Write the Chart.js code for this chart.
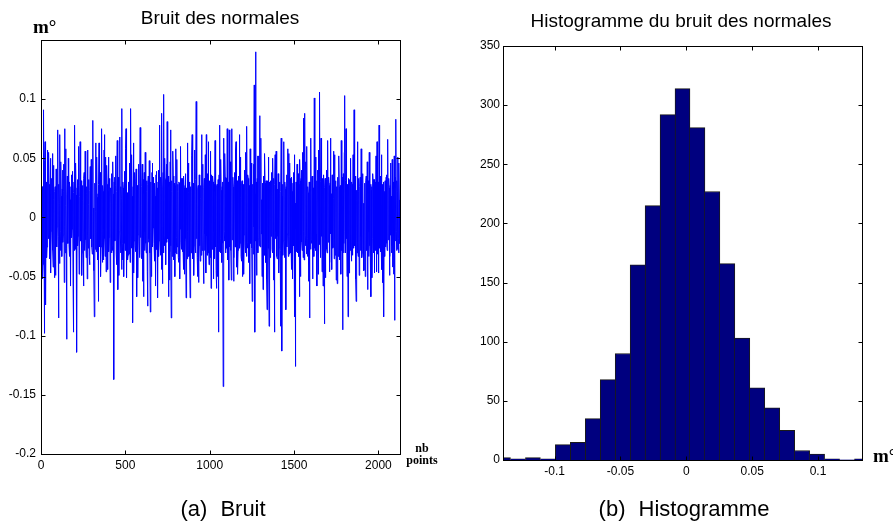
<!DOCTYPE html>
<html>
<head>
<meta charset="utf-8">
<script src="https://cdn.jsdelivr.net/npm/chart.js@4.4.1/dist/chart.umd.min.js"></script>
<style>
  body { margin: 0; background: #fff; }
  #page { position: relative; width: 893px; height: 523px; overflow: hidden; font-family: "Liberation Sans", Arial, sans-serif; color: #000; }
  canvas { position: absolute; top: 0; }
  .title { position: absolute; font-size: 19px; line-height: 19px; white-space: nowrap; transform: translateX(-50%); }
  .caption { position: absolute; font-size: 22px; line-height: 22px; word-spacing: 7px; white-space: nowrap; transform: translateX(-50%); }
  .unit { position: absolute; font-family: "Liberation Serif", "Times New Roman", serif; font-weight: bold; font-size: 19px; line-height: 19px; white-space: nowrap; }
  .nb { position: absolute; font-family: "Liberation Serif", "Times New Roman", serif; font-weight: bold; font-size: 12px; line-height: 12px; text-align: center; width: 40px; }
</style>
</head>
<body>
<div id="page">
  <canvas id="noiseChart" width="446" height="523" style="left:0"></canvas>
  <canvas id="histChart" width="446" height="523" style="left:447px"></canvas>
  <div class="title" style="left:220px; top:8px">Bruit des normales</div>
  <div class="title" style="left:681px; top:11px">Histogramme du bruit des normales</div>
  <div class="unit" style="left:33px; top:17px">m°</div>
  <div class="unit" style="left:873px; top:446px">m°</div>
  <div class="nb" style="left:402px; top:442px">nb<br>points</div>
  <div class="caption" style="left:223px; top:498px">(a) Bruit</div>
  <div class="caption" style="left:684px; top:498px">(b) Histogramme</div>
</div>
<script>
// noise signal, in thousandths of m°
// noiseA: samples 0, 4, 8, ...   noiseB: samples 2, 6, 10, ... (the dense core in between)
const sampleStep = 4;
const noiseA = [
  20, -30, 22, -40, 91, -98, 64, -74, 30, -25, 57, -18, 28, -35, 50, -12, 33, 54, -42, 15,
  -51, 26, -20, 38, -8, 74, -85, 12, 70, -28, 18, -33, 40, -15, 22, 75, -30, 10, -103, 35,
  -22, 28, -33, 15, -58, 36, -10, 24, -97, 30, 78, -27, 19, -114, 32, -16, 27, -38, 64, -20,
  25, -30, 14, -58, 38, -12, 30, -34, 20, 57, -26, 11, -40, 43, -18, 29, -31, 82, 8, -84,
  24, 63, -29, 17, -36, -71, 63, -14, 31, -25, 75, -38, 22, -10, 70, -33, 51, -21, 28, -44,
  51, -17, 26, -35, 12, 37, -28, 20, -137, 34, -19, 27, -40, 65, -61, 23, -12, 68, -30, 16,
  92, -36, 25, -22, 39, -14, 75, -51, 21, -32, 30, -8, -38, 92, -26, 18, -89, 63, -20, 33,
  -29, 41, -67, 24, -15, 36, -34, 76, 10, -35, 45, -23, -67, 38, -12, 53, -30, 22, -75, 35,
  -18, 28, -80, 30, -25, 46, -9, 34, -37, 18, -28, 39, -14, -68, 40, -20, 78, -32, 26, 88,
  -56, 38, 104, -24, 32, -40, 45, 81, -18, -67, 30, -29, 74, -85, 22, -13, 35, -36, 17, 27,
  58, -31, -25, 22, -38, 29, -10, 60, -27, 19, 33, -44, 25, -20, 37, -68, 14, 63, -33, 21,
  30, -68, 26, -16, 70, -35, 18, -24, 39, -30, 98, 12, -50, 27, -21, 34, -37, 16, 70, -28,
  24, -56, 33, -14, 29, 70, -32, 20, 64, -40, 26, -18, -60, 36, -24, 30, -12, -35, 65, 18,
  -60, 28, -22, -97, 36, 78, -30, 23, -38, 30, -143, 67, -20, 34, -27, 15, 75, -36, 22, 74,
  -25, 30, -53, 75, -18, 26, -34, 38, -11, 64, -42, 24, -28, 35, 70, -22, 17, -37, 31, -44,
  28, -15, 40, -30, 20, 77, -26, 33, -38, 14, 58, -22, 36, -71, 25, 45, 112, -97, 140, 30,
  -28, 52, -18, 40, 86, -25, 67, 15, -33, -61, 35, -20, 29, -38, 22, -78, 31, 51, -92, 26,
  -24, -16, 38, -30, 18, 33, -97, 53, -12, 27, -35, -16, 30, -26, 20, -92, 67, -113, 28, -20,
  64, -34, 24, -78, 36, -14, 29, 54, -31, 18, 33, -44, 22, -27, 38, -19, -84, -126, 30, -22,
  26, 37, -33, -67, 31, -15, 40, -28, 19, 84, -36, 88, -24, 32, 60, -33, 21, -40, -85, 30,
  67, -22, 35, -30, 18, 101, -26, 38, -14, -58, 40, -20, 29, 106, -34, 67, 24, -27, -58, 36,
  -90, 33, -18, 40, -30, 65, -12, 27, -38, 67, 20, -44, 31, -25, 16, 53, -32, 28, -20, -56,
  34, -14, 26, -36, 19, 65, -28, -95, 37, -22, 103, -30, 75, 18, -26, -84, 33, -17, 25, 50,
  -37, 28, -20, 36, 91, -24, 30, -71, 14, 64, -33, 22, -39, 34, -16, 27, -30, 37, 12, -44,
  29, -22, 35, -28, -61, 31, -12, 37, -34, -67, 26, -18, 32, -25, -47, 30, -15, 24, 64, -31,
  20, 78, -26, 33, -19, -44, 28, -35, -84, 22, 31, -20, 36, -28, 66, -14, 25, -33, 46, 18,
  -24, -42, 30, -16, -87, 34, 83, -28, 22, 51, -30, 15, 10
];
const noiseB = [
  -18, 26, -52, 24, -20, 48, -22, 18, -34, 30, -14, 55, -27, 20, -47, 25, -15, -28, 44, -37,
  22, -49, 41, -25, 52, -16, 28, -39, -12, 47, -29, 24, -21, 45, -55, -8, 58, -26, 19, -20,
  50, -23, 30, -42, 26, -17, 39, -53, 21, -28, -10, 46, -30, 25, -24, 60, -48, 18, -6, 31,
  -49, 27, -22, 33, -28, 56, -19, 26, -52, -15, 32, -33, 23, -9, 49, -25, 18, -20, -45, 29,
  -27, 5, 51, -32, 20, 28, -25, 38, -50, 30, -12, 27, -36, 57, -18, 24, -46, 44, -26, 22,
  -29, 33, -55, 25, -30, -24, 47, -26, 30, -20, 52, -31, 22, 8, 34, -49, 29, -14, 26, -44,
  -22, 30, -50, 27, -28, 58, -18, 20, -36, 24, -31, 46, 22, -14, 53, -27, 26, -47, 38, -24,
  30, -26, 27, -51, 45, -20, 29, -17, -30, 26, -54, 32, 20, -28, 55, -22, 31, -46, 28, -21,
  48, -30, 24, -50, 38, -25, 31, -22, 29, -58, 36, -27, 25, 30, -33, 54, -19, 34, -44, -8,
  24, -30, -15, 50, -28, 33, -21, -10, 35, 26, -53, 47, -24, 31, -33, 56, -25, 29, -50, -30,
  -17, 49, 28, -34, 30, -52, 55, -21, 33, -29, -26, 35, -48, 27, -18, 25, -35, -12, 46, -27,
  -33, 22, -30, 52, -20, 29, -49, 57, -25, 32, -18, -34, 24, -55, 36, -24, 27, -32, -14, 45,
  -31, 25, -28, 53, -47, -16, 37, -30, -20, 31, -34, 56, 23, -27, 35, -52, 28, 22, -25, -45,
  27, -50, 32, 25, -29, -18, 49, -31, 26, -22, 20, -12, 54, -30, 33, -26, -20, 30, -53, -15,
  47, -28, 22, -19, 34, -54, 28, -25, 57, -24, 31, -48, 27, -20, -26, 51, -33, 29, -50, 25,
  -48, 32, -24, 55, -33, -21, 36, -29, 27, -56, -18, 46, -26, 28, -31, -8, 10, 20, -20, -49,
  33, -30, 52, -24, -10, 47, -14, -50, 29, 25, -32, 54, -27, 31, -52, 24, -26, -22, 30, -34,
  31, 25, -27, 50, -53, -22, 28, -18, 56, -33, 24, 37, -47, 30, -28, 22, -10, 18, -32, 48,
  -20, 30, -51, 26, -25, 58, -33, -16, 46, -30, -22, 34, -52, 29, -24, 53, 12, -10, -29, 45,
  -30, -24, 28, 49, -50, 33, -21, 55, -34, -12, 27, -15, 47, -31, -18, 26, -54, 30, 22, -27,
  -19, 34, -52, 25, -33, -15, 51, -28, 31, 27, -48, 57, -23, -12, 30, -16, -46, 33, 28, -25,
  25, -51, 30, -27, 54, -21, 34, -46, 29, -14, -30, 36, -26, 56, -35, -19, 31, -53, 26, 22,
  -33, 52, -29, 27, -48, -20, 34, 24, -30, 55, -12, 31, -18, -50, 28, 22, -47, 32, -28, -24,
  30, -32, 53, -26, -14, 35, -52, 23, -30, -21, 33, -49, 26, -28, 58, -34, 29, -19, -45, 27,
  -50, 31, -26, 47, 20, -33, 55, -24, 28, 23, -51, 37, -30, 32, 25, -28, 52, -46, -17, 30,
  -47, -12, 35, -29, 53, 26, -55, 30, 21, -33, -25, 34, -22, 50, -19, 33, -49, 27, -15, -30,
  49, 24, -48, 52, 25, -20, -12, 31, -27, -18, 46, -22
];
const noiseXTicks = [0, 500, 1000, 1500, 2000];
const noiseYTicks = [-0.2, -0.15, -0.1, -0.05, 0, 0.05, 0.1];

// histogram: 25 bins
const binCenters = [
  -0.13920, -0.12784, -0.11648, -0.10512, -0.09376, -0.08240, -0.07104, -0.05968, -0.04832,
  -0.03696, -0.02560, -0.01424, -0.00288, 0.00848, 0.01984, 0.03120, 0.04256, 0.05392,
  0.06528, 0.07664, 0.08800, 0.09936, 0.11072, 0.12208, 0.13344
];
const binCounts = [2, 1, 2, 1, 13, 15, 35, 68, 90, 165, 215, 292, 314, 281, 227, 166, 103, 61, 44, 25, 8, 5, 1, 0, 1];
const histXTicks = [-0.1, -0.05, 0, 0.05, 0.1];
const histYTicks = [0, 50, 100, 150, 200, 250, 300, 350];

Chart.defaults.font.family = '"Liberation Sans", Arial, sans-serif';
Chart.defaults.font.size = 12;
Chart.defaults.color = '#000';

// closed box with inward tick marks on all four sides
const matlabBox = {
  id: 'matlabBox',
  afterDraw(chart) {
    const { ctx, chartArea: a, scales: { x, y } } = chart;
    const L = Math.round(a.left) + 0.5, R = Math.round(a.right) + 0.5;
    const T = Math.round(a.top) + 0.5, B = Math.round(a.bottom) + 0.5;
    const len = 4;
    ctx.save();
    ctx.strokeStyle = '#000';
    ctx.lineWidth = 1;
    ctx.strokeRect(L, T, R - L, B - T);
    ctx.beginPath();
    x.ticks.forEach(t => {
      const p = Math.round(x.getPixelForValue(t.value)) + 0.5;
      ctx.moveTo(p, B); ctx.lineTo(p, B - len);
      ctx.moveTo(p, T); ctx.lineTo(p, T + len);
    });
    y.ticks.forEach(t => {
      const p = Math.round(y.getPixelForValue(t.value)) + 0.5;
      ctx.moveTo(L, p); ctx.lineTo(L + len, p);
      ctx.moveTo(R, p); ctx.lineTo(R - len, p);
    });
    ctx.stroke();
    ctx.restore();
  }
};

const fixedTicks = list => scale => { scale.ticks = list.map(v => ({ value: v })); };

// merge the two sample sets back into one series
const noisePoints = [];
noiseA.forEach((v, i) => {
  noisePoints.push({ x: i * sampleStep, y: v / 1000 });
  if (i < noiseB.length) noisePoints.push({ x: i * sampleStep + sampleStep / 2, y: noiseB[i] / 1000 });
});

new Chart(document.getElementById('noiseChart'), {
  type: 'line',
  data: {
    datasets: [{
      data: noisePoints,
      borderColor: '#0000ff',
      borderWidth: 1,
      pointRadius: 0,
      tension: 0
    }]
  },
  options: {
    responsive: false,
    animation: false,
    layout: { padding: { left: 0, right: 46, top: 40, bottom: 49 } },
    plugins: { legend: { display: false }, tooltip: { enabled: false } },
    scales: {
      x: {
        type: 'linear',
        min: 0,
        max: (noiseA.length - 1) * sampleStep,
        grid: { display: false, drawTicks: false },
        border: { display: false },
        afterBuildTicks: fixedTicks(noiseXTicks),
        afterFit: s => { s.height = 20; },
        ticks: { padding: 4, maxRotation: 0, callback: v => String(v) }
      },
      y: {
        min: -0.2,
        max: 0.15,
        grid: { display: false, drawTicks: false },
        border: { display: false },
        afterBuildTicks: fixedTicks(noiseYTicks),
        afterFit: s => { s.width = 41; },
        ticks: { padding: 5, callback: v => String(v) }
      }
    }
  },
  plugins: [matlabBox]
});

new Chart(document.getElementById('histChart'), {
  type: 'bar',
  data: {
    datasets: [{
      data: binCenters.map((c, i) => ({ x: c, y: binCounts[i] })),
      backgroundColor: '#00007f',
      borderColor: '#1a1a1a',
      borderSkipped: false,
      // one separator line per pair of neighbouring bars, owned by the taller one
      borderWidth: ctx => {
        const i = ctx.dataIndex;
        const cur = binCounts[i];
        const prev = i > 0 ? binCounts[i - 1] : -1;
        const next = i < binCounts.length - 1 ? binCounts[i + 1] : -1;
        return { top: 1, bottom: 0, left: prev <= cur ? 1 : 0, right: next < cur ? 1 : 0 };
      },
      barPercentage: 1,
      categoryPercentage: 1,
      clip: 0
    }]
  },
  options: {
    responsive: false,
    animation: false,
    layout: { padding: { left: 0, right: 31, top: 46, bottom: 43 } },
    plugins: { legend: { display: false }, tooltip: { enabled: false } },
    scales: {
      x: {
        type: 'linear',
        offset: false,
        min: binCenters[0],
        max: binCenters[binCenters.length - 1],
        grid: { display: false, drawTicks: false, offset: false },
        border: { display: false },
        afterBuildTicks: fixedTicks(histXTicks),
        afterFit: s => { s.height = 20; },
        ticks: { padding: 4, maxRotation: 0, callback: v => String(v) }
      },
      y: {
        min: 0,
        max: 350,
        grid: { display: false, drawTicks: false },
        border: { display: false },
        afterBuildTicks: fixedTicks(histYTicks),
        afterFit: s => { s.width = 56; },
        ticks: { padding: 3, callback: v => String(v) }
      }
    }
  },
  plugins: [matlabBox]
});
</script>
</body>
</html>
